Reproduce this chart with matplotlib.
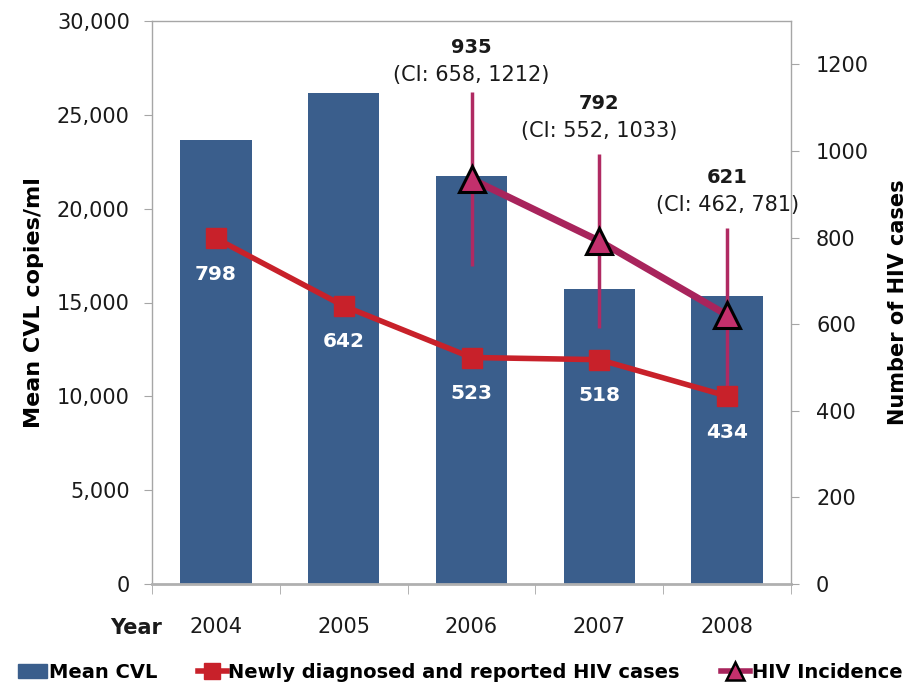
import matplotlib
matplotlib.use("Agg")
import matplotlib.pyplot as plt
import matplotlib.transforms as mtransforms
from matplotlib.lines import Line2D
from matplotlib.patches import Patch
import numpy as np

plt.rcParams['font.family'] = ['DejaVu Sans']

years = ["2004", "2005", "2006", "2007", "2008"]
mean_cvl = [23650, 26150, 21750, 15700, 15370]
new_cases = [798, 642, 523, 518, 434]
inc_years = ["2006", "2007", "2008"]
incidence = [935, 792, 621]
inc_err = [200, 200, 200]
inc_ci = ["(CI: 658, 1212)", "(CI: 552, 1033)", "(CI: 462, 781)"]

bar_color = "#3A5E8C"
red = "#C8212A"
mag = "#A8245C"
mag_fill = "#C3306C"
grey = "#A6A6A6"
txt = "#1a1a1a"

fig = plt.figure(figsize=(9.2, 6.91), dpi=100)
ax = fig.add_axes([152/920, 1-584/691, (791-152)/920, (584-21)/691])
ax2 = ax.twinx()

x = np.arange(len(years))
ax.bar(x, mean_cvl, width=0.56, color=bar_color, zorder=2)
ax.set_xlim(-0.5, len(years)-0.5)
ax.set_ylim(0, 30000)
ax.set_yticks(np.arange(0, 30001, 5000))
ax.set_yticklabels([f"{v:,}" for v in range(0, 30001, 5000)])
ax.set_xticks(x)
ax.set_xticklabels(years)
ax.set_xticks(np.arange(-0.5, len(years), 1), minor=True)
ax.tick_params(axis='x', which='major', length=0, pad=24, labelsize=15, colors=txt)
ax.tick_params(axis='x', which='minor', length=7, color=grey, direction='out')
ax.tick_params(axis='y', length=6, color=grey, pad=10, labelsize=15, labelcolor=txt)
for s in ['left', 'right', 'top']:
    ax.spines[s].set_color(grey)
    ax.spines[s].set_linewidth(1.0)
ax.spines['bottom'].set_color('#B0B0B0')
ax.spines['bottom'].set_linewidth(2.0)
ax.set_ylabel("Mean CVL copies/ml", fontsize=16, fontweight='bold', labelpad=9)

ax2.set_ylim(0, 1300)
ax2.set_yticks(np.arange(0, 1201, 200))
ax2.tick_params(axis='y', length=6, color=grey, pad=12, labelsize=15, labelcolor=txt)
for s in ['left', 'right', 'top', 'bottom']:
    ax2.spines[s].set_visible(False)
ax.spines['right'].set_visible(True)
ax2.set_ylabel("Number of HIV cases", fontsize=15, fontweight='bold', labelpad=14)

# Newly diagnosed line
ax2.plot(x, new_cases, color=red, lw=4, marker='s', markersize=15,
         markerfacecolor=red, markeredgecolor=red, zorder=4)
for xi, v in zip(x, new_cases):
    ax2.annotate(str(v), (xi, v), xytext=(0, -36), textcoords='offset pixels',
                 ha='center', va='center', color='white', fontsize=14.5,
                 fontweight='bold', zorder=6)

# HIV incidence
xi_inc = np.array([years.index(y) for y in inc_years])
ax2.errorbar(xi_inc, incidence, yerr=inc_err, fmt='none', ecolor="#B02A62",
             elinewidth=2.5, capsize=0, zorder=3)
ax2.plot(xi_inc, incidence, color=mag, lw=5, zorder=4)
ax2.plot(xi_inc, incidence, linestyle='none', marker='^', markersize=19,
         markerfacecolor=mag_fill, markeredgecolor='black', markeredgewidth=2.2, zorder=5)
for xi, v, ci in zip(xi_inc, incidence, inc_ci):
    off = 104 if v == incidence[0] else 110
    ax2.annotate(ci, (xi, v), xytext=(0, off), textcoords='offset pixels',
                 ha='center', va='center', fontsize=15, color=txt)
    ax2.annotate(str(v), (xi, v), xytext=(0, off + 28), textcoords='offset pixels',
                 ha='center', va='center', fontsize=14, fontweight='bold', color=txt)

trans = mtransforms.blended_transform_factory(ax.transData, ax.transAxes)
ax.text(-0.42, -44/563, "Year", transform=trans, ha='right', va='center',
        fontsize=15, fontweight='bold', color=txt)

handles = [
    Patch(facecolor=bar_color, edgecolor=bar_color),
    Line2D([0], [0], color=red, lw=4, marker='s', markersize=12),
    Line2D([0], [0], color=mag, lw=4, marker='^', markersize=13,
           markerfacecolor=mag_fill, markeredgecolor='black', markeredgewidth=1.8),
]
labels = ["Mean CVL", "Newly diagnosed and reported HIV cases", "HIV Incidence"]
fig.legend(handles, labels, loc='center', bbox_to_anchor=(0.5, 1-672/691), ncol=3,
           frameon=False, prop={'size': 14, 'weight': 'bold'}, handlelength=1.5,
           handletextpad=0.08, columnspacing=2.1, borderaxespad=0)

fig.savefig("out.png", dpi=100)
